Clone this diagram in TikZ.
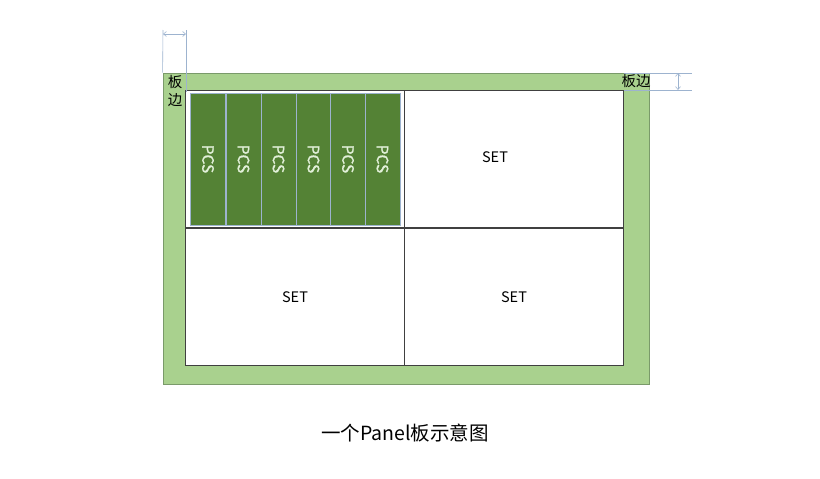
\documentclass[tikz,border=0pt]{standalone}
\usepackage{fontspec}
\setmainfont{Noto Sans CJK SC}
\newfontfamily\pcsfont[FakeBold=1.2]{Noto Sans CJK SC}
\usetikzlibrary{arrows.meta}
\definecolor{edgegreen}{HTML}{A9D18E}
\definecolor{edgestroke}{HTML}{7A9A6A}
\definecolor{pcsgreen}{HTML}{548235}
\definecolor{pcstext}{HTML}{E2F0D9}
\definecolor{dimblue}{HTML}{9DB3CF}
\tikzset{
  setbox/.style={draw=black!75, line width=0.8pt, fill=white, minimum width=219pt, minimum height=137pt, inner sep=0pt, font=\fontsize{14.5pt}{16pt}\selectfont},
  setlabel/.style={inner sep=0pt, font=\fontsize{14.5pt}{16pt}\selectfont},
  pcsbox/.style={fill=pcsgreen, draw=dimblue, line width=0.5pt, minimum width=35pt, minimum height=132pt, inner sep=0pt},
  pcslabel/.style={text=pcstext, rotate=-90, font=\pcsfont\fontsize{15.5pt}{17pt}\selectfont},
  dimline/.style={draw=dimblue, line width=0.6pt},
  dimarrow/.style={draw=dimblue, line width=0.6pt, {Straight Barb[length=3pt,width=5pt]}-{Straight Barb[length=3pt,width=5pt]}},
  edgelabel/.style={font=\fontsize{14.5pt}{16pt}\selectfont, inner sep=0pt}
}
\begin{document}
\begin{tikzpicture}[x=1pt,y=-1pt]
\useasboundingbox (0,0) rectangle (820,479);
% panel edge
\node[draw=edgestroke, fill=edgegreen, line width=0.8pt, minimum width=486pt, minimum height=311pt, inner sep=0pt] (panel) at (406,228.5) {};
% SET quadrants
\node[setbox] (tl) at (295,158.5) {};
\node[setbox] (tr) at (514,158.5) {};
\node[setlabel] (trl) at (495,157) {SET};
\node[setbox] (bl) at (295,297) {SET};
\node[setbox] (br) at (514,297) {SET};
% PCS strips
\foreach \i/\x in {1/208,2/243.5,3/278.5,4/313.5,5/348,6/382.5}{
  \node[pcsbox] (p\i) at (\x,159) {};
  \node[pcslabel] (pl\i) at (p\i) {PCS};
}
% left dimension
\coordinate (la) at (163,30);
\coordinate (lb) at (186,30);
\draw[dimline] (la) -- (panel.north west);
\draw[dimline] (lb) -- (186,92);
\coordinate (laa) at (163,34);
\coordinate (lbb) at (186,34);
\draw[dimarrow] (laa) -- (lbb);
\node[edgelabel] (lt1) at (175,82) {板};
\node[edgelabel] (lt2) at (175,100) {边};
% right dimension
\coordinate (ra) at (692,73);
\coordinate (rb) at (692,90);
\draw[dimline] (624,73) -- (ra);
\draw[dimline] (624,90) -- (rb);
\coordinate (raa) at (678,73);
\coordinate (rbb) at (678,90);
\draw[dimarrow] (raa) -- (rbb);
\node[edgelabel] (rt) at (636,81) {板边};
% caption
\node[font=\fontsize{19.5pt}{21pt}\selectfont, text=black] (cap) at (405,433) {一个Panel板示意图};
\end{tikzpicture}
\end{document}
